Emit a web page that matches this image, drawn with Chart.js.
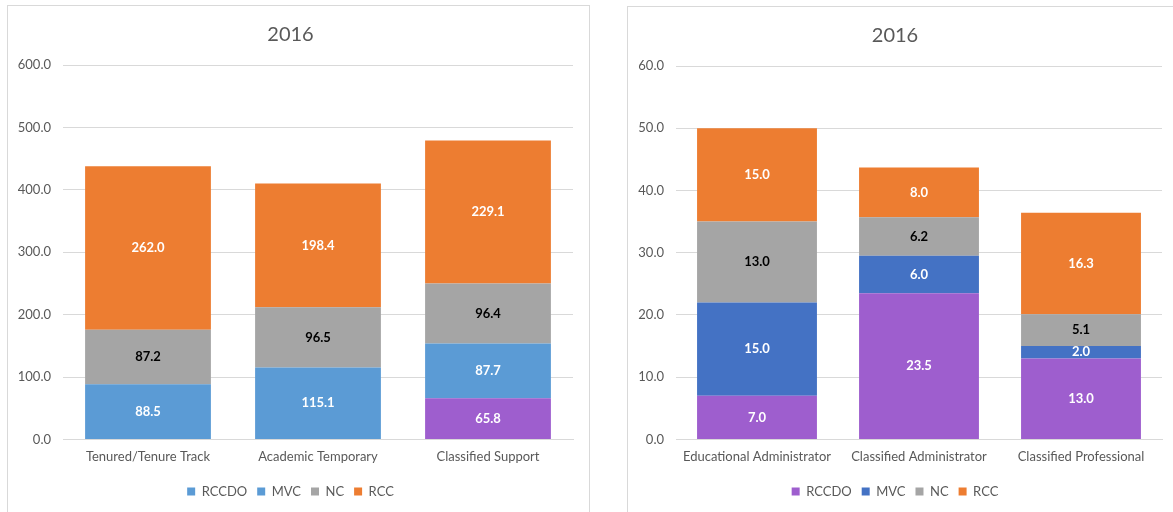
<!DOCTYPE html>
<html>
<head>
<meta charset="utf-8">
<script src="https://cdn.jsdelivr.net/npm/chart.js@4.4.0/dist/chart.umd.min.js"></script>
<style>
  html, body { margin: 0; padding: 0; background: #fff; overflow: hidden; }
  body { width: 1173px; height: 512px; position: relative; }
  .box { position: absolute; border: 1px solid #D9D9D9; box-sizing: border-box; background: #fff; }
  #boxLeft { left: 7px; top: 5px; width: 583px; height: 530px; }
  #boxRight { left: 627px; top: 6px; width: 560px; height: 530px; }
  canvas { display: block; }
</style>
</head>
<body>
<div class="box" id="boxLeft"><canvas id="leftChart" width="581" height="506"></canvas></div>
<div class="box" id="boxRight"><canvas id="rightChart" width="558" height="505"></canvas></div>
<script>
// Left chart: faculty / support staff, 2016
const leftCategories = ['Tenured/Tenure Track', 'Academic Temporary', 'Classified Support'];
const leftRCCDO = [null, null, 65.8];
const leftMVC = [88.5, 115.1, 87.7];
const leftNC = [87.2, 96.5, 96.4];
const leftRCC = [262.0, 198.4, 229.1];
const leftTicks = [0, 100, 200, 300, 400, 500, 600];

// Right chart: administrators / professionals, 2016
const rightCategories = ['Educational Administrator', 'Classified Administrator', 'Classified Professional'];
const rightRCCDO = [7.0, 23.5, 13.0];
const rightMVC = [15.0, 6.0, 2.0];
const rightNC = [13.0, 6.2, 5.1];
const rightRCC = [15.0, 8.0, 16.3];
const rightTicks = [0, 10, 20, 30, 40, 50, 60];

const seriesNames = ['RCCDO', 'MVC', 'NC', 'RCC'];

const PURPLE = '#9E5ECE';
const LIGHT_BLUE = '#5B9BD5';
const DARK_BLUE = '#4472C4';
const GRAY = '#A5A5A5';
const ORANGE = '#ED7D31';
const TEXT = '#595959';
const FONT = "Lato, 'Open Sans', sans-serif";

// draws the value in the middle of each stacked segment
const segmentLabels = {
    id: 'segmentLabels',
    afterDatasetsDraw(chart) {
        const ctx = chart.ctx;
        ctx.save();
        ctx.font = 'bold 13px ' + FONT;
        ctx.textAlign = 'center';
        ctx.textBaseline = 'middle';
        chart.data.datasets.forEach((ds, i) => {
            const meta = chart.getDatasetMeta(i);
            meta.data.forEach((bar, j) => {
                const v = ds.data[j];
                if (v === null || v === undefined) return;
                ctx.fillStyle = ds.labelColor;
                ctx.fillText(v.toFixed(1), bar.x, (bar.y + bar.base) / 2);
            });
        });
        ctx.restore();
    }
};

function buildChart(id, categories, series, colors, legendColors, ticks, axisWidth, rightPad) {
    const datasets = series.map((data, i) => ({
        label: seriesNames[i],
        data: data,
        backgroundColor: colors[i],
        labelColor: seriesNames[i] === 'NC' ? '#000' : '#fff',
        categoryPercentage: 1,
        barPercentage: 0.74
    }));

    return new Chart(document.getElementById(id), {
        type: 'bar',
        data: { labels: categories, datasets: datasets },
        plugins: [segmentLabels],
        options: {
            responsive: false,
            animation: false,
            layout: { padding: { left: 0, right: rightPad, top: 0, bottom: 4 } },
            plugins: {
                title: {
                    display: true,
                    text: '2016',
                    color: TEXT,
                    font: { family: FONT, size: 20, weight: 'normal' },
                    padding: { top: 17, bottom: 18 }
                },
                legend: {
                    position: 'bottom',
                    labels: {
                        color: TEXT,
                        font: { family: FONT, size: 13 },
                        boxWidth: 8,
                        boxHeight: 8,
                        padding: 10,
                        generateLabels(chart) {
                            return chart.data.datasets.map((ds, i) => ({
                                text: ds.label,
                                fillStyle: legendColors[i],
                                strokeStyle: legendColors[i],
                                lineWidth: 0,
                                fontColor: TEXT,
                                datasetIndex: i
                            }));
                        }
                    }
                },
                tooltip: { enabled: false }
            },
            scales: {
                x: {
                    stacked: true,
                    grid: { display: false, drawTicks: false },
                    border: { color: '#D9D9D9' },
                    ticks: { color: TEXT, font: { family: FONT, size: 13 }, padding: 10 }
                },
                y: {
                    stacked: true,
                    min: ticks[0],
                    max: ticks[ticks.length - 1],
                    afterBuildTicks(axis) {
                        axis.ticks = ticks.map(v => ({ value: v }));
                    },
                    afterFit(axis) {
                        axis.width = axisWidth;
                    },
                    grid: { color: '#D9D9D9', drawTicks: false },
                    border: { display: false },
                    ticks: {
                        color: TEXT,
                        font: { family: FONT, size: 13 },
                        padding: 12,
                        callback: v => Number(v).toFixed(1)
                    }
                }
            }
        }
    });
}

buildChart('leftChart', leftCategories,
    [leftRCCDO, leftMVC, leftNC, leftRCC],
    [PURPLE, LIGHT_BLUE, GRAY, ORANGE],
    [LIGHT_BLUE, LIGHT_BLUE, GRAY, ORANGE],
    leftTicks, 55, 16);

buildChart('rightChart', rightCategories,
    [rightRCCDO, rightMVC, rightNC, rightRCC],
    [PURPLE, DARK_BLUE, GRAY, ORANGE],
    [PURPLE, DARK_BLUE, GRAY, ORANGE],
    rightTicks, 48, 24);
</script>
</body>
</html>
